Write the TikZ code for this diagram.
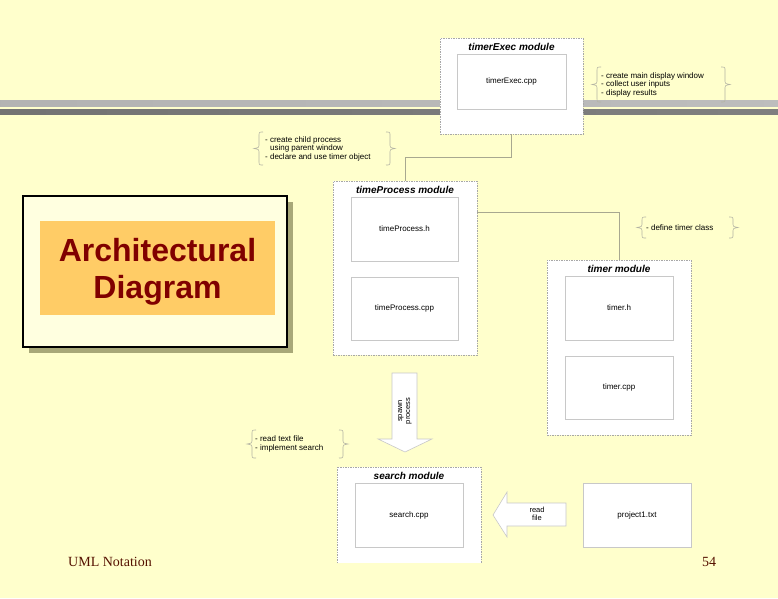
\documentclass[tikz,border=0pt]{standalone}
\usepackage{fontspec}
\setmainfont{Liberation Sans}
\newfontfamily\arialf{Liberation Sans}
\newfontfamily\timesf{Liberation Serif}
\usetikzlibrary{calc}
\definecolor{bgc}{HTML}{FFFFCC}
\definecolor{dashc}{HTML}{A8A8A8}
\definecolor{boxc}{HTML}{C8C8C8}
\definecolor{connc}{HTML}{A8A890}
\definecolor{brcc}{HTML}{B4B4A4}
\definecolor{archtxt}{HTML}{800000}
\definecolor{archorange}{HTML}{FFCC66}
\definecolor{archfill}{HTML}{FFFFE0}
\definecolor{archshadow}{HTML}{A8A878}
\definecolor{footc}{HTML}{551100}
\newcommand{\notebraces}[4]{%
  \pgfmathsetmacro{\bym}{(#2+#4)/2}%
  \draw[brc] (#1+6,#2) .. controls (#1+2,#2) .. (#1+2,#2+4) -- (#1+2,\bym-3)
     .. controls (#1+2,\bym-1) .. (#1-3,\bym) .. controls (#1+2,\bym+1) .. (#1+2,\bym+3)
     -- (#1+2,#4-4) .. controls (#1+2,#4) .. (#1+6,#4);
  \draw[brc] (#3-6,#2) .. controls (#3-2,#2) .. (#3-2,#2+4) -- (#3-2,\bym-3)
     .. controls (#3-2,\bym-1) .. (#3+3,\bym) .. controls (#3-2,\bym+1) .. (#3-2,\bym+3)
     -- (#3-2,#4-4) .. controls (#3-2,#4) .. (#3-6,#4);
}
\tikzset{
  modbox/.style={draw=dashc, dash pattern=on 1.5pt off 1pt, line width=0.5pt, fill=white, inner sep=0pt},
  filebox/.style={draw=boxc, line width=0.8pt, fill=white, inner sep=0pt, minimum width=108pt, minimum height=64pt, font=\arialf\fontsize{8}{9}\selectfont},
  modtitle/.style={font=\arialf\bfseries\itshape\fontsize{10}{12}\selectfont, inner sep=0pt},
  conn/.style={draw=connc, line width=0.8pt},
  brc/.style={draw=brcc, line width=0.6pt},
  note/.style={font=\arialf\fontsize{8}{8.5}\selectfont, align=left, inner sep=0pt, anchor=west},
  blockarrow/.style={draw=boxc, line width=0.6pt, fill=white}
}
\begin{document}
\begin{tikzpicture}[x=1pt,y=-1pt]
\fill[bgc] (0,0) rectangle (778,598);
\useasboundingbox (0,0) rectangle (778,598);
% header bars
\shade[left color=black!30, middle color=black!8, right color=black!26] (0,100) rectangle (778,106);
\shade[left color=black!55, middle color=black!20, right color=black!50] (0,109) rectangle (778,114);

% Architectural diagram title box
\fill[archshadow] (29,202) rectangle (293,353);
\draw[fill=archfill, line width=1.6pt] (23,196) rectangle (287,347);
\fill[archorange] (40,221) rectangle (275,315);
\node[text=archtxt, font=\arialf\bfseries\fontsize{32}{37}\selectfont, align=center, inner sep=0pt] (title) at (157.5,272) {Architectural\\Diagram};

% timerExec module
\node[modbox, minimum width=143pt, minimum height=96pt] (te) at (511.5,86) {};
\node[modtitle] (tet) at (511.5,47) {timerExec module};
\node[filebox, minimum width=109pt, minimum height=55pt] (tecpp) at (511.5,81.5) {timerExec.cpp};
\notebraces{595}{67}{727}{102}
\node[note] (n1) at (601,84.5) {- create main display window\\- collect user inputs\\- display results};

% timeProcess module
\node[modbox, minimum width=144pt, minimum height=174pt] (tp) at (405,268) {};
\node[modtitle] (tpt) at (405,190) {timeProcess module};
\node[filebox, minimum width=107pt] (tph) at (404.5,229) {timeProcess.h};
\node[filebox, minimum width=107pt, minimum height=63pt] (tpcpp) at (404.5,308.5) {timeProcess.cpp};
\notebraces{257}{132}{392}{165}
\node[note] (n2) at (265,148.5) {- create child process\\\phantom{-} using parent window\\- declare and use timer object};

% connector timerExec -> timeProcess
\draw[conn] (te.south) -- ++(0,23) -| (tp.north);

% timer module
\node[modbox, minimum width=144pt, minimum height=175pt] (tm) at (619,347.5) {};
\node[modtitle] (tmt) at (619,269) {timer module};
\node[filebox] (tmh) at (619,308) {timer.h};
\node[filebox, minimum height=63pt] (tmcpp) at (619,387.5) {timer.cpp};
\notebraces{640}{217}{735}{238}
\node[note] (n3) at (646,227.5) {- define timer class};

% connector timeProcess -> timer
\coordinate (c2) at ($(tp.north east)+(0,32)$);
\draw[conn] (c2) -| (tm.north);

% search module (cut at the bottom)
\node[fill=white, inner sep=0pt, minimum width=144pt, minimum height=96pt] (sm) at (409,515) {};
\draw[draw=dashc, dash pattern=on 1.5pt off 1pt, line width=0.5pt] (sm.south west) -- (sm.north west) -- (sm.north east) -- (sm.south east);
\node[modtitle] (smt) at (409,476) {search module};
\node[filebox] (scpp) at (409,515) {search.cpp};
\notebraces{250}{430}{345}{458}
\node[note] (n4) at (255,444) {- read text file\\- implement search};

% project1.txt
\node[filebox] (proj) at (637,515) {project1.txt};

% spawn process block arrow
\draw[blockarrow] (392,373) -- (417,373) -- (417,439) -- (432,439) -- (405,452) -- (378,439) -- (392,439) -- cycle;
\node[rotate=90, font=\arialf\fontsize{7.5}{8}\selectfont, align=center, inner sep=0pt] (spawn) at (405,411) {spawn\\process};

% read file block arrow
\draw[blockarrow] (566,503) -- (566,526) -- (507,526) -- (507,537) -- (493,515) -- (507,492) -- (507,503) -- cycle;
\node[font=\arialf\fontsize{7.5}{8.5}\selectfont, align=center, inner sep=0pt] (readf) at (537,514) {read\\file};

% footer
\node[anchor=base west, inner sep=0pt, text=footc, font=\timesf\fontsize{14}{16}\selectfont] (foot) at (68,566) {UML Notation};
\node[anchor=base, inner sep=0pt, text=footc, font=\timesf\fontsize{14}{16}\selectfont] (page) at (709,566) {54};
\end{tikzpicture}
\end{document}
